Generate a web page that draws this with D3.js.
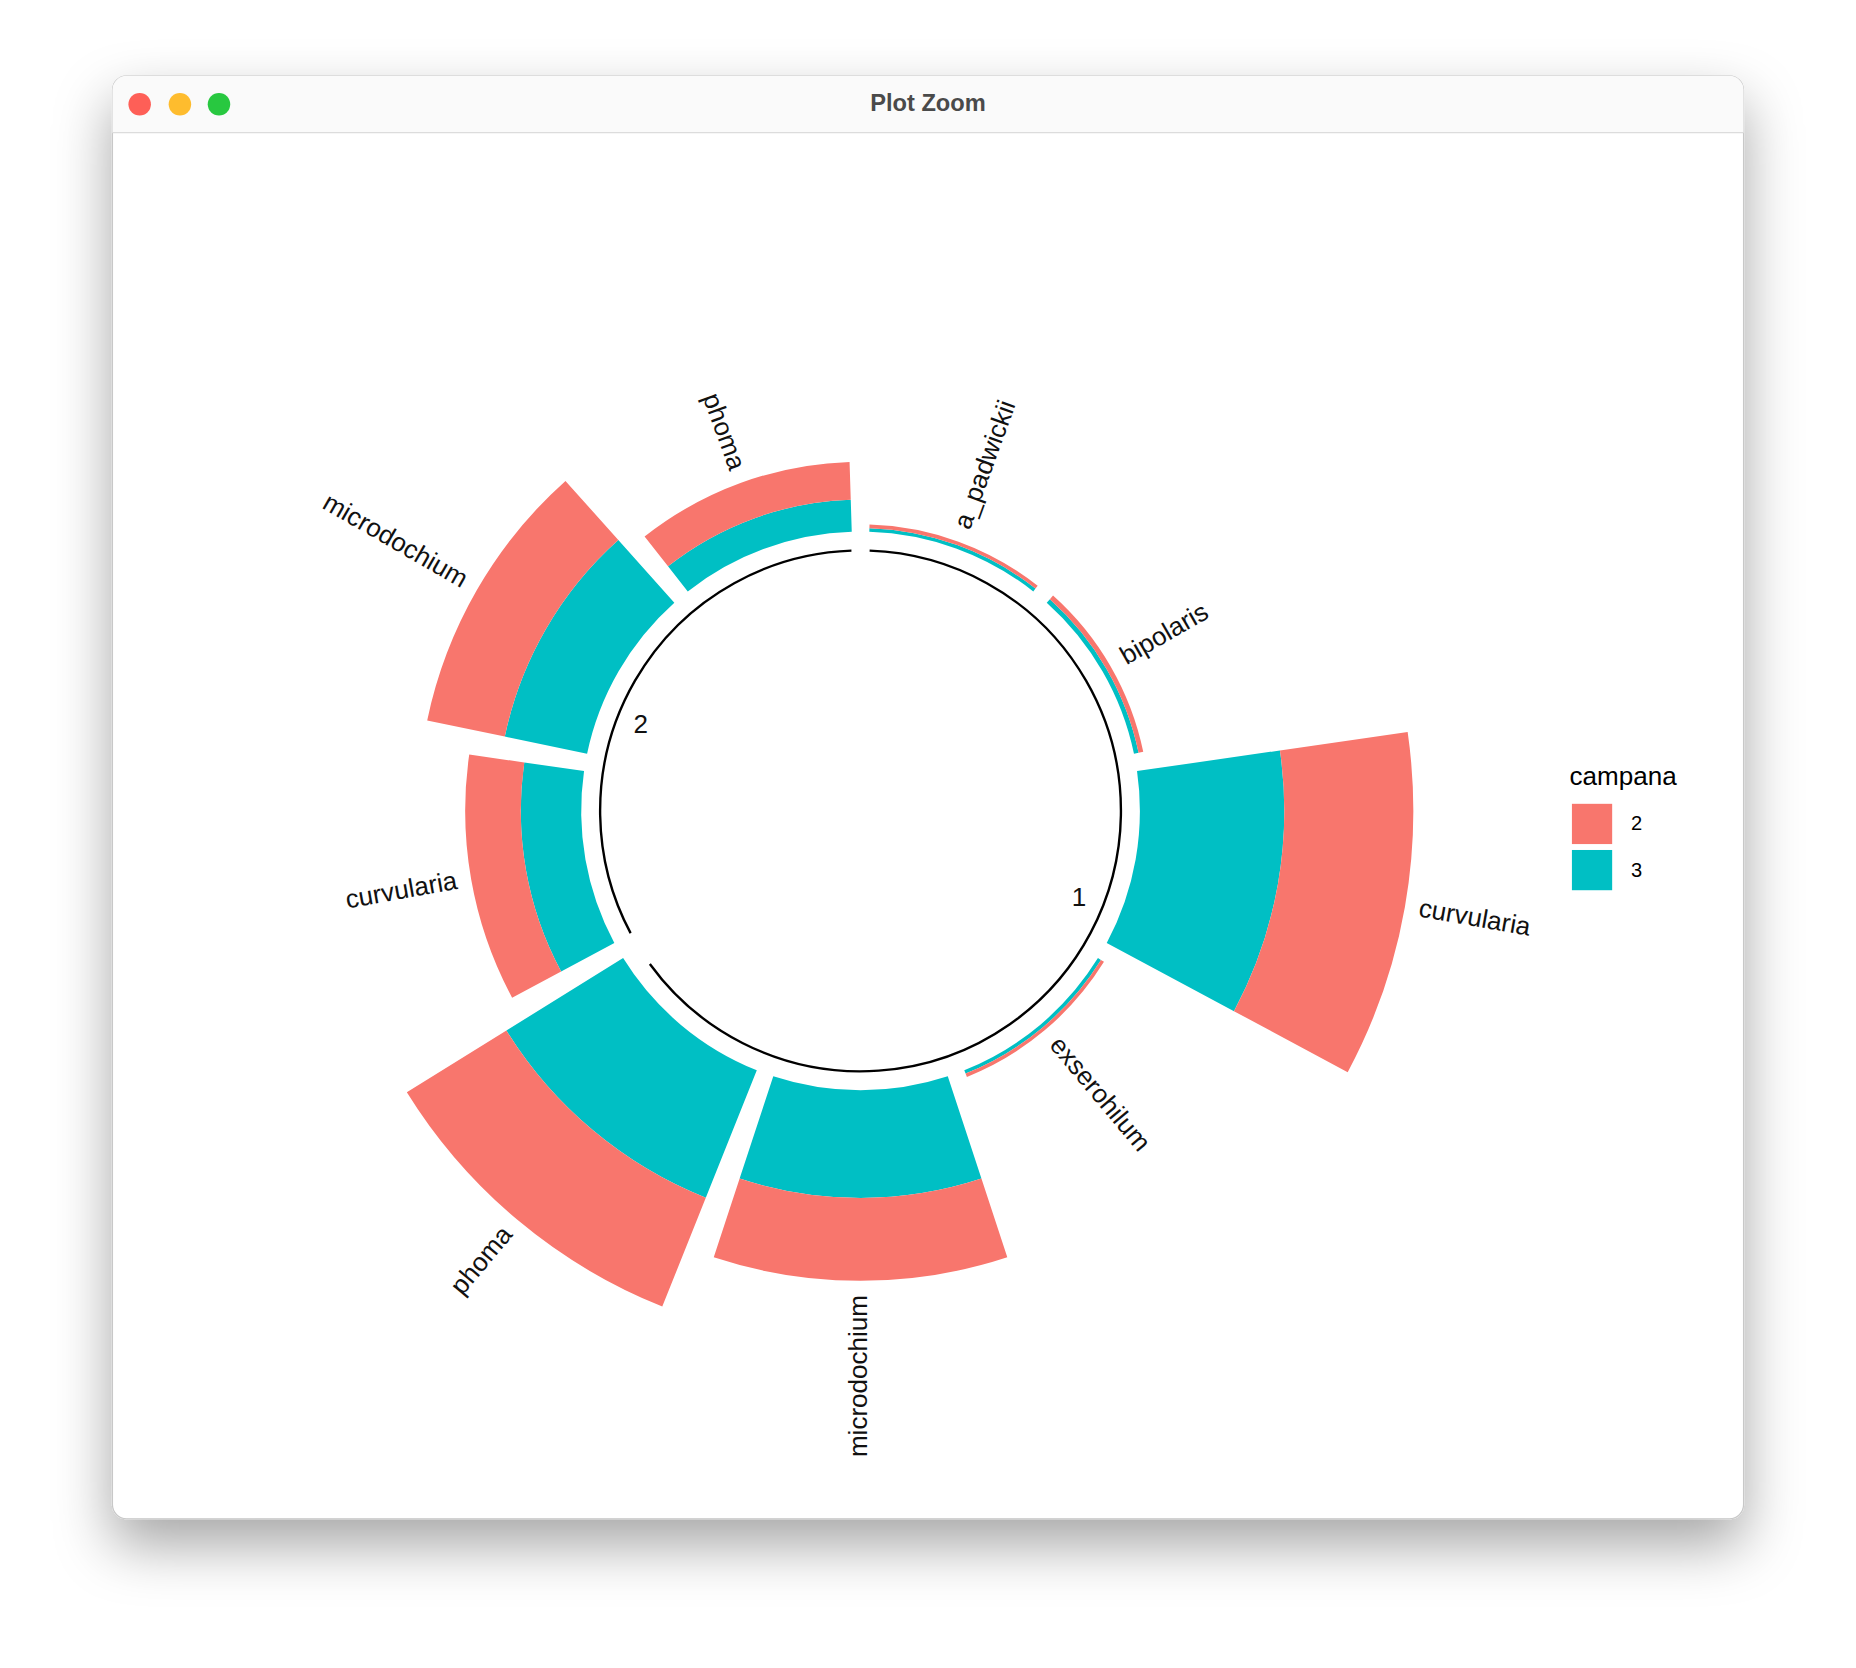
<!DOCTYPE html>
<html><head><meta charset="utf-8">
<script src="https://cdn.jsdelivr.net/npm/d3@7"></script>
<style>body{margin:0;background:#fff}svg{display:block}</style>
</head><body>
<svg id="chart" width="1856" height="1668" viewBox="0 0 1568 1409"></svg>
<script>
// Data
const taxa = ["a_padwickii", "bipolaris", "curvularia", "exserohilum", "microdochium", "phoma", "curvularia", "microdochium", "phoma"];
const groupOf = [1, 1, 1, 1, 1, 1, 2, 2, 2];
const campana3 = [0.3, 0.4, 12.2, 0.3, 9.1, 11.6, 5.1, 7.1, 2.7];
const campana2 = [0.3, 0.4, 10.9, 0.3, 7.0, 9.9, 4.7, 6.7, 3.2];
const groupLabels = ["1", "2"];
const legendKeys = ["2", "3"];

const col = { "2": "#F8766D", "3": "#00BFC4" };
const svg = d3.select("#chart");

// window chrome
const defs = svg.append("defs");
const f = defs.append("filter").attr("id", "sh").attr("x", "-10%").attr("y", "-10%").attr("width", "120%").attr("height", "125%");
f.append("feDropShadow").attr("dx", 0).attr("dy", 22).attr("stdDeviation", 24).attr("flood-color", "#000").attr("flood-opacity", 0.35);
svg.append("rect").attr("x", 95).attr("y", 64).attr("width", 1378).attr("height", 1219).attr("rx", 12)
  .attr("fill", "#fff").attr("stroke", "#c8c8c8").attr("filter", "url(#sh)");
svg.append("path").attr("d", "M95,112 V76 a12,12 0 0 1 12,-12 H1461 a12,12 0 0 1 12,12 V112 Z").attr("fill", "#fafafa");
svg.append("line").attr("x1", 95).attr("x2", 1473).attr("y1", 112).attr("y2", 112).attr("stroke", "#dcdcdc");
[["#fe5f57", 118], ["#febc2e", 152], ["#28c840", 185]].forEach(([c, x]) =>
  svg.append("circle").attr("cx", x).attr("cy", 88).attr("r", 9.5).attr("fill", c));
svg.append("text").attr("x", 784).attr("y", 94).attr("text-anchor", "middle")
  .attr("font-family", "Liberation Sans, Arial").attr("font-weight", "bold").attr("font-size", 20)
  .attr("fill", "#4a4a4a").text("Plot Zoom");

// polar chart
const cx = 727, cy = 685;
const g = svg.append("g").attr("transform", `translate(${cx},${cy})`);
const slot = 2 * Math.PI / taxa.length;
const pad = 1.8 * Math.PI / 180;
const base = 236;
const r = d3.scaleLinear().domain([0, 25]).range([base, base + 250]);

const rows = taxa.map((t, i) => ({ t, i, v3: campana3[i], v2: campana2[i] }));
const arc = d3.arc();
rows.forEach(d => {
  const a0 = d.i * slot + pad, a1 = (d.i + 1) * slot - pad;
  g.append("path").attr("fill", col["3"])
    .attr("d", arc({ innerRadius: r(0), outerRadius: r(d.v3), startAngle: a0, endAngle: a1 }));
  g.append("path").attr("fill", col["2"])
    .attr("d", arc({ innerRadius: r(d.v3), outerRadius: r(d.v3 + d.v2), startAngle: a0, endAngle: a1 }));
  // label
  const ang = (d.i + 0.5) * slot, deg = ang * 180 / Math.PI;
  const rr = r(d.v3 + d.v2) + 12;
  const x = rr * Math.sin(ang), y = -rr * Math.cos(ang);
  const right = deg < 180;
  g.append("text").attr("transform", `translate(${x},${y}) rotate(${right ? deg - 90 : deg - 270})`)
    .attr("text-anchor", right ? "start" : "end").attr("dominant-baseline", "middle")
    .attr("font-family", "Liberation Sans, Arial").attr("font-size", 22).attr("fill", "#111").text(d.t);
});

// group rings
const toRad = a => a * Math.PI / 180;
const groupArcs = [[2, 234], [242, 358]];
groupArcs.forEach(([s, e]) => {
  g.append("path").attr("fill", "none").attr("stroke", "#000").attr("stroke-width", 2)
    .attr("d", d3.arc()({ innerRadius: 220, outerRadius: 220, startAngle: toRad(s), endAngle: toRad(e) }));
});
const groupAngles = [112, 291];
groupLabels.forEach((l, k) => {
  const a = toRad(groupAngles[k]);
  g.append("text").attr("x", 199 * Math.sin(a)).attr("y", -199 * Math.cos(a))
    .attr("text-anchor", "middle").attr("dominant-baseline", "middle")
    .attr("font-family", "Liberation Sans, Arial").attr("font-size", 22).attr("fill", "#111").text(l);
});

// legend
const lg = svg.append("g").attr("transform", "translate(1326,655)");
lg.append("text").attr("x", 0).attr("y", 8).attr("font-family", "Liberation Sans, Arial").attr("font-size", 22).text("campana");
legendKeys.forEach((k, i) => {
  lg.append("rect").attr("x", 2).attr("y", 24 + i * 39).attr("width", 34).attr("height", 34).attr("fill", col[k]);
  lg.append("text").attr("x", 52).attr("y", 42 + i * 39).attr("dominant-baseline", "middle")
    .attr("font-family", "Liberation Sans, Arial").attr("font-size", 17).text(k);
});
</script>
</body></html>
